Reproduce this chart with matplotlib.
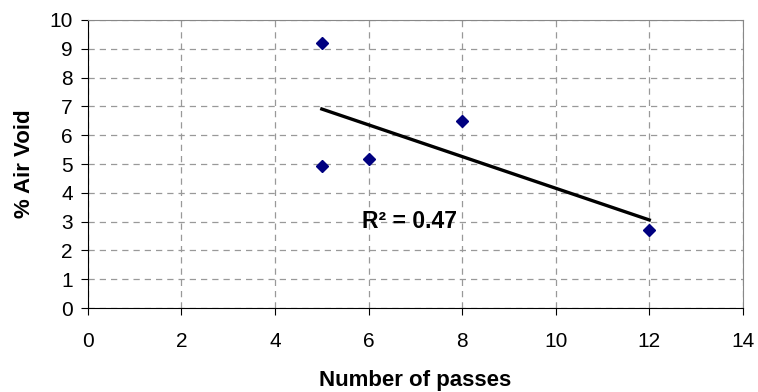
import matplotlib.pyplot as plt
import numpy as np

plt.rcParams['font.family'] = ['Liberation Sans', 'DejaVu Sans']

# Data
passes = np.array([5, 5, 6, 8, 12])
air_void = np.array([9.2, 4.94, 5.16, 6.5, 2.7])
r2_label = 'R² = 0.47'

# Linear trend line
slope, intercept = np.polyfit(passes, air_void, 1)
xt = np.array([passes.min(), passes.max()])
yt = slope * xt + intercept

fig = plt.figure(figsize=(7.58, 3.92), dpi=100)
ax = fig.add_axes([0.116, 0.214, 0.864, 0.735])

ax.plot(xt, yt, color='black', lw=2.4, zorder=3)
ax.plot(passes, air_void, 'D', color='#000080', markersize=6.5, zorder=4)

ax.set_xlim(0, 14)
ax.set_ylim(0, 10)
ax.set_xticks(np.arange(0, 15, 2))
ax.set_yticks(np.arange(0, 11, 1))
ax.grid(True, color='#999999', linestyle=(0, (5, 4)), lw=0.9)
ax.set_axisbelow(True)

for s in ['top', 'right']:
    ax.spines[s].set_color('#888888')
for s in ['left', 'bottom']:
    ax.spines[s].set_color('black')
ax.tick_params(direction='out', length=5, labelsize=15, width=0.8, pad=6)
ax.tick_params(axis='x', pad=12)

ax.text(5.85, 3.0, r2_label, fontsize=16.5, fontweight='bold', va='center', ha='left')

ax.set_xlabel('Number of passes', fontsize=16, fontweight='bold', labelpad=14)
ax.set_ylabel('% Air Void', fontsize=16, fontweight='bold', labelpad=10)

fig.savefig('out.png', dpi=100)
